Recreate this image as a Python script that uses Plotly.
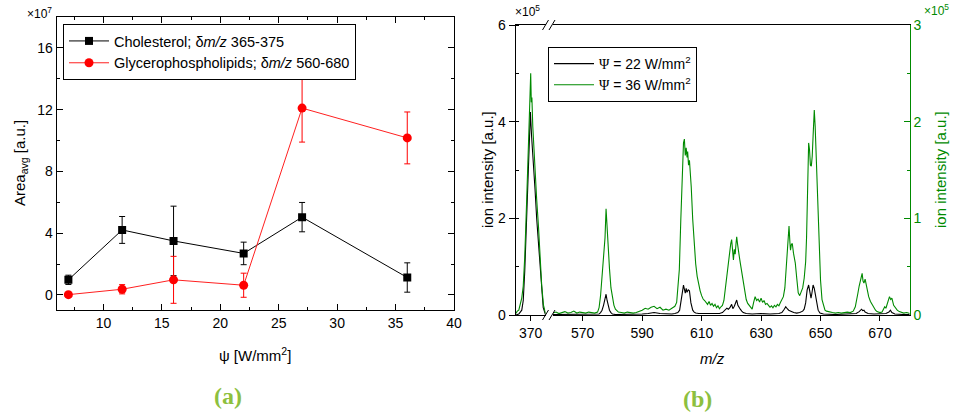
import plotly.graph_objects as go

# ---------------- Panel (a) data ----------------
psi = [7, 11.6, 16, 22, 27, 36]
chol = [0.98, 4.21, 3.5, 2.69, 5.04, 1.13]
chol_err = [0.3, 0.87, 2.25, 0.73, 0.95, 0.95]
gpl = [0.02, 0.37, 0.98, 0.63, 12.1, 10.17]
gpl_err = [0.1, 0.3, 1.52, 0.78, 2.2, 1.68]

# ---------------- Panel (b) data ----------------
mz_lo_black = [365, 366, 367, 367.5, 368, 368.65, 369, 369.4, 369.9, 370.3, 370.8, 371.45, 372, 372.6, 373.2, 373.7, 374.2, 374.9, 375]
int_lo_black = [0.0, 0.02, 0.1, 0.3, 0.9, 2.0, 2.9, 3.6, 4.2, 3.7, 3.1, 2.6, 2.0, 1.5, 0.9, 0.4, 0.15, 0.02, 0.0]

mz_lo_green = [365, 365.5, 366, 366.5, 367, 367.5, 368, 368.65, 369, 369.4, 369.8, 370, 370.2, 370.4, 370.7, 371, 371.45, 372, 372.6, 373.2, 373.7, 374.3, 374.9, 375]
int_lo_green = [0.015, 0.04, 0.05, 0.1, 0.175, 0.3, 0.6, 1.19, 1.6, 2.12, 2.3, 2.5, 2.2, 2.25, 1.95, 1.75, 1.5, 1.2, 0.92, 0.55, 0.3, 0.1, 0.025, 0.015]

mz_hi_black = [560, 565, 570, 575, 575.5, 576, 576.5, 577, 577.5, 577.85, 578.2, 578.6, 579, 579.5, 580, 581, 585, 590, 592, 594, 596, 598, 600, 601, 602, 602.6, 603.2, 603.6, 603.9, 604.2, 604.5, 604.8, 605.1, 605.5, 605.9, 606.4, 607, 607.5, 608, 609, 610, 612, 614, 616, 617, 618, 618.5, 619, 619.5, 620.1, 620.5, 621, 621.5, 621.8, 622.2, 622.6, 623, 623.5, 624, 625, 627, 630, 633, 636, 637, 637.8, 638.3, 638.8, 639.3, 640, 641, 642, 643, 644, 644.5, 645, 645.5, 646, 646.4, 646.8, 647.1, 647.5, 647.9, 648.3, 648.7, 649.2, 649.8, 651, 655, 660, 662, 663, 663.5, 663.8, 664.2, 664.6, 665, 666, 668, 670, 672, 673, 673.5, 674, 675, 678, 680]
int_hi_black = [0.01, 0.01, 0.01, 0.01, 0.02, 0.05, 0.1, 0.2, 0.32, 0.43, 0.3, 0.2, 0.1, 0.05, 0.02, 0.01, 0.01, 0.02, 0.03, 0.05, 0.03, 0.02, 0.02, 0.03, 0.05, 0.1, 0.3, 0.5, 0.62, 0.5, 0.45, 0.55, 0.47, 0.52, 0.5, 0.25, 0.1, 0.06, 0.04, 0.03, 0.03, 0.02, 0.02, 0.03, 0.05, 0.1, 0.14, 0.12, 0.15, 0.22, 0.13, 0.18, 0.25, 0.31, 0.2, 0.15, 0.12, 0.08, 0.05, 0.03, 0.02, 0.03, 0.02, 0.03, 0.05, 0.12, 0.17, 0.13, 0.1, 0.08, 0.05, 0.04, 0.05, 0.08, 0.12, 0.25, 0.52, 0.62, 0.45, 0.35, 0.45, 0.62, 0.55, 0.4, 0.25, 0.1, 0.04, 0.02, 0.01, 0.02, 0.03, 0.07, 0.1, 0.12, 0.09, 0.1, 0.06, 0.03, 0.02, 0.02, 0.03, 0.06, 0.1, 0.05, 0.02, 0.01, 0.01]

mz_hi_green = [560, 561, 562, 563, 564, 565, 566, 567, 568, 569, 570, 571, 572, 573, 574, 575, 575.5, 576, 576.5, 577, 577.5, 577.85, 578.2, 578.5, 579, 579.5, 580, 580.5, 581, 581.5, 582, 583, 584, 585, 586, 587, 588, 589, 590, 591, 592, 593, 594, 595, 596, 597, 598, 599, 600, 601, 601.6, 602, 602.5, 603, 603.5, 603.9, 604.2, 604.5, 604.8, 605.1, 605.3, 605.6, 605.9, 606.2, 606.5, 607, 607.5, 608, 608.5, 609, 609.5, 610, 610.5, 611, 611.5, 612, 612.5, 613, 613.5, 614, 614.5, 615, 615.5, 616, 616.5, 617, 617.5, 618, 618.5, 619, 619.5, 619.8, 620.1, 620.4, 620.7, 621, 621.3, 621.6, 621.8, 622.1, 622.4, 622.7, 623, 623.5, 624, 624.5, 625, 625.5, 626, 626.5, 627, 627.5, 628, 628.5, 629, 629.5, 630, 630.5, 631, 631.5, 632, 632.5, 633, 633.5, 634, 634.5, 635, 635.5, 636, 636.5, 637, 637.5, 638, 638.5, 639, 639.4, 639.7, 639.9, 640.2, 640.5, 640.9, 641.2, 641.5, 642, 642.5, 643, 643.5, 644, 644.5, 645, 645.3, 645.6, 646, 646.3, 646.6, 646.9, 647.2, 647.5, 647.9, 648.2, 648.5, 648.8, 649.1, 649.4, 650, 650.5, 651, 651.5, 652, 653, 654, 655, 656, 657, 658, 659, 660, 661, 661.7, 662.2, 662.6, 663, 663.4, 663.8, 664, 664.3, 664.6, 665, 665.4, 665.7, 666.2, 666.8, 667.3, 667.9, 668.5, 669, 670, 670.7, 671.2, 671.6, 672, 672.4, 672.8, 673.2, 673.6, 674, 674.6, 675.2, 675.8, 676.5, 677.4, 678, 679, 680]
int_hi_green = [0.02, 0.03, 0.015, 0.025, 0.035, 0.02, 0.025, 0.04, 0.02, 0.03, 0.025, 0.02, 0.03, 0.025, 0.02, 0.03, 0.075, 0.2, 0.4, 0.6, 0.8, 1.1, 0.88, 0.75, 0.48, 0.28, 0.18, 0.1, 0.06, 0.04, 0.03, 0.025, 0.02, 0.03, 0.025, 0.02, 0.025, 0.035, 0.05, 0.07, 0.06, 0.08, 0.09, 0.065, 0.08, 0.05, 0.06, 0.05, 0.07, 0.09, 0.13, 0.25, 0.47, 0.99, 1.45, 1.78, 1.82, 1.65, 1.73, 1.63, 1.69, 1.55, 1.6, 1.48, 1.33, 0.99, 0.74, 0.53, 0.4, 0.3, 0.25, 0.2, 0.165, 0.15, 0.13, 0.11, 0.14, 0.1, 0.12, 0.09, 0.11, 0.075, 0.095, 0.065, 0.085, 0.1, 0.15, 0.28, 0.43, 0.57, 0.65, 0.74, 0.78, 0.65, 0.57, 0.68, 0.63, 0.75, 0.81, 0.73, 0.64, 0.6, 0.54, 0.45, 0.33, 0.23, 0.16, 0.12, 0.1, 0.07, 0.06, 0.13, 0.19, 0.15, 0.165, 0.135, 0.175, 0.13, 0.15, 0.11, 0.12, 0.1, 0.08, 0.095, 0.075, 0.1, 0.085, 0.11, 0.095, 0.13, 0.155, 0.19, 0.28, 0.54, 0.78, 0.92, 0.75, 0.67, 0.73, 0.74, 0.64, 0.58, 0.54, 0.38, 0.23, 0.2, 0.25, 0.28, 0.38, 0.55, 0.8, 1.33, 1.78, 1.71, 1.55, 1.54, 1.64, 1.85, 2.12, 1.95, 1.68, 1.4, 1.1, 0.71, 0.36, 0.16, 0.09, 0.05, 0.04, 0.03, 0.025, 0.02, 0.025, 0.02, 0.025, 0.03, 0.025, 0.04, 0.085, 0.15, 0.23, 0.3, 0.36, 0.4, 0.43, 0.35, 0.33, 0.37, 0.3, 0.26, 0.19, 0.14, 0.11, 0.085, 0.05, 0.035, 0.025, 0.03, 0.06, 0.085, 0.07, 0.12, 0.15, 0.19, 0.16, 0.175, 0.1, 0.07, 0.05, 0.035, 0.025, 0.02, 0.025, 0.015]

W, H = 958, 416
def px(x):
    return x / W
def py(y):
    return 1 - y / H

FONT = "Arial, 'Liberation Sans', sans-serif"
SERIF = "'Liberation Serif', 'DejaVu Serif', serif"
GREEN = "#008a00"
LBL = "rgb(141,192,62)"

fig = go.Figure()

# Panel (a)
fig.add_trace(go.Scatter(
    x=psi, y=chol, mode="lines+markers", name="Cholesterol; δ<i>m/z</i> 365-375",
    line=dict(color="black", width=1), marker=dict(symbol="square", size=8, color="black"),
    error_y=dict(type="data", array=chol_err, color="black", thickness=1, width=3),
    xaxis="x", yaxis="y", legend="legend"))
fig.add_trace(go.Scatter(
    x=psi, y=gpl, mode="lines+markers", name="Glycerophospholipids; δ<i>m/z</i> 560-680",
    line=dict(color="#ff2020", width=1), marker=dict(symbol="circle", size=9, color="red"),
    error_y=dict(type="data", array=gpl_err, color="red", thickness=1, width=3),
    xaxis="x", yaxis="y", legend="legend"))

# Panel (b)
psi_span = "<span style=\"font-family:'Liberation Serif', serif\">Ψ</span>"
fig.add_trace(go.Scatter(x=mz_lo_black, y=int_lo_black, mode="lines", line=dict(color="black", width=1.1),
                         xaxis="x2", yaxis="y2", showlegend=False))
fig.add_trace(go.Scatter(x=mz_hi_black, y=int_hi_black, mode="lines", line=dict(color="black", width=1.1),
                         xaxis="x3", yaxis="y2", name=psi_span + " = 22 W/mm<sup>2</sup>", legend="legend2"))
fig.add_trace(go.Scatter(x=mz_lo_green, y=int_lo_green, mode="lines", line=dict(color=GREEN, width=1.1),
                         xaxis="x2", yaxis="y3", showlegend=False))
fig.add_trace(go.Scatter(x=mz_hi_green, y=int_hi_green, mode="lines", line=dict(color=GREEN, width=1.1),
                         xaxis="x3", yaxis="y3", name=psi_span + " = 36 W/mm<sup>2</sup>", legend="legend2"))

tickfont = dict(family=FONT, size=14, color="black")
axcommon = dict(showgrid=False, zeroline=False, showline=True, linecolor="black", linewidth=1.2,
                tickfont=tickfont, tickcolor="black", automargin=False)

fig.update_layout(
    width=W, height=H, margin=dict(l=0, r=0, t=0, b=0, pad=0, autoexpand=False),
    paper_bgcolor="white", plot_bgcolor="white",
    font=dict(family=FONT, size=14, color="black"),
    xaxis=dict(**axcommon, domain=[px(56.7), px(454)], range=[6, 40], anchor="y",
               tickmode="linear", tick0=0, dtick=5, ticks="inside", ticklen=6, mirror="ticks",
               minor=dict(dtick=2.5, tick0=0, ticks="inside", ticklen=3, tickcolor="black")),
    yaxis=dict(**axcommon, domain=[py(310.4), py(17)], range=[-1, 18], anchor="x",
               tickmode="linear", tick0=0, dtick=4, ticks="inside", ticklen=6, mirror="ticks",
               minor=dict(dtick=2, tick0=0, ticks="inside", ticklen=3, tickcolor="black")),
    xaxis2=dict(**axcommon, domain=[px(515.8), px(545.6)], range=[365, 375], anchor="y2",
                tickmode="array", tickvals=[370], ticks="outside", ticklen=5, mirror=True),
    xaxis3=dict(**axcommon, domain=[px(553.0), px(909.7)], range=[560, 680], anchor="y2",
                tickmode="linear", tick0=570, dtick=20, ticks="outside", ticklen=5, mirror=True),
    xaxis4=dict(overlaying="x2", side="top", anchor="y2", range=[365, 375], showline=False,
                showgrid=False, zeroline=False, tickmode="array", tickvals=[370], ticks="inside",
                ticklen=5, tickcolor="black", showticklabels=False, automargin=False),
    xaxis5=dict(overlaying="x3", side="top", anchor="y2", range=[560, 680], showline=False,
                showgrid=False, zeroline=False, tickmode="linear", tick0=570, dtick=20, ticks="inside",
                ticklen=5, tickcolor="black", showticklabels=False, automargin=False),
    yaxis2=dict(**axcommon, domain=[py(315), py(25)], range=[0, 6], anchor="x2", side="left",
                tickmode="linear", tick0=0, dtick=2, ticks="outside", ticklen=6,
                minor=dict(dtick=1, tick0=0, ticks="inside", ticklen=3, tickcolor="black")),
    yaxis3=dict(showgrid=False, zeroline=False, showline=True, linecolor=GREEN, linewidth=1.2,
                tickfont=dict(family=FONT, size=14, color=GREEN), tickcolor=GREEN, automargin=False,
                overlaying="y2", side="right", anchor="x3", range=[0, 3],
                tickmode="linear", tick0=0, dtick=1, ticks="inside", ticklen=6,
                minor=dict(dtick=0.5, tick0=0, ticks="inside", ticklen=3, tickcolor=GREEN)),
    legend=dict(x=px(63), y=py(24), xanchor="left", yanchor="top", bgcolor="white",
                bordercolor="black", borderwidth=1, font=dict(family=FONT, size=14.5),
                tracegroupgap=0, itemwidth=40),
    legend2=dict(x=px(548), y=py(47), xanchor="left", yanchor="top", bgcolor="white",
                 bordercolor="black", borderwidth=1, font=dict(family=FONT, size=14),
                 tracegroupgap=0, itemwidth=40),
)

annots = [
    dict(text="×10<sup>7</sup>", x=px(25), y=py(23), xanchor="left", yanchor="bottom",
         font=dict(family=FONT, size=12)),
    dict(text="×10<sup>5</sup>", x=px(513), y=py(21), xanchor="left", yanchor="bottom",
         font=dict(family=FONT, size=12)),
    dict(text="×10<sup>5</sup>", x=px(922), y=py(20), xanchor="left", yanchor="bottom",
         font=dict(family=FONT, size=12, color=GREEN)),
    dict(text="Area<sub>avg</sub> [a.u.]", x=px(20), y=py(163), textangle=-90,
         xanchor="center", yanchor="middle", font=dict(family=FONT, size=15)),
    dict(text="ψ [W/mm<sup>2</sup>]", x=px(255), y=py(354), xanchor="center", yanchor="middle",
         font=dict(family=FONT, size=15)),
    dict(text="ion intensity [a.u.]", x=px(487), y=py(170), textangle=-90,
         xanchor="center", yanchor="middle", font=dict(family=FONT, size=15)),
    dict(text="ion intensity [a.u.]", x=px(940), y=py(170), textangle=-90,
         xanchor="center", yanchor="middle", font=dict(family=FONT, size=15, color=GREEN)),
    dict(text="<i>m/z</i>", x=px(712), y=py(358), xanchor="center", yanchor="middle",
         font=dict(family=FONT, size=15)),
    dict(text="<b>(a)</b>", x=px(228), y=py(396), xanchor="center", yanchor="middle",
         font=dict(family=SERIF, size=24, color=LBL)),
    dict(text="<b>(b)</b>", x=px(697), y=py(399), xanchor="center", yanchor="middle",
         font=dict(family=SERIF, size=24, color=LBL)),
]
for a in annots:
    a.update(xref="paper", yref="paper", showarrow=False)
fig.update_layout(annotations=annots)

# axis break marks
shapes = []
for ybase in (315, 25):
    for x0 in (542.5, 549.0):
        shapes.append(dict(type="line", xref="paper", yref="paper",
                           x0=px(x0), y0=py(ybase + 5), x1=px(x0 + 6), y1=py(ybase - 5),
                           line=dict(color="black", width=1)))
fig.update_layout(shapes=shapes)

fig.write_html("out.html")
